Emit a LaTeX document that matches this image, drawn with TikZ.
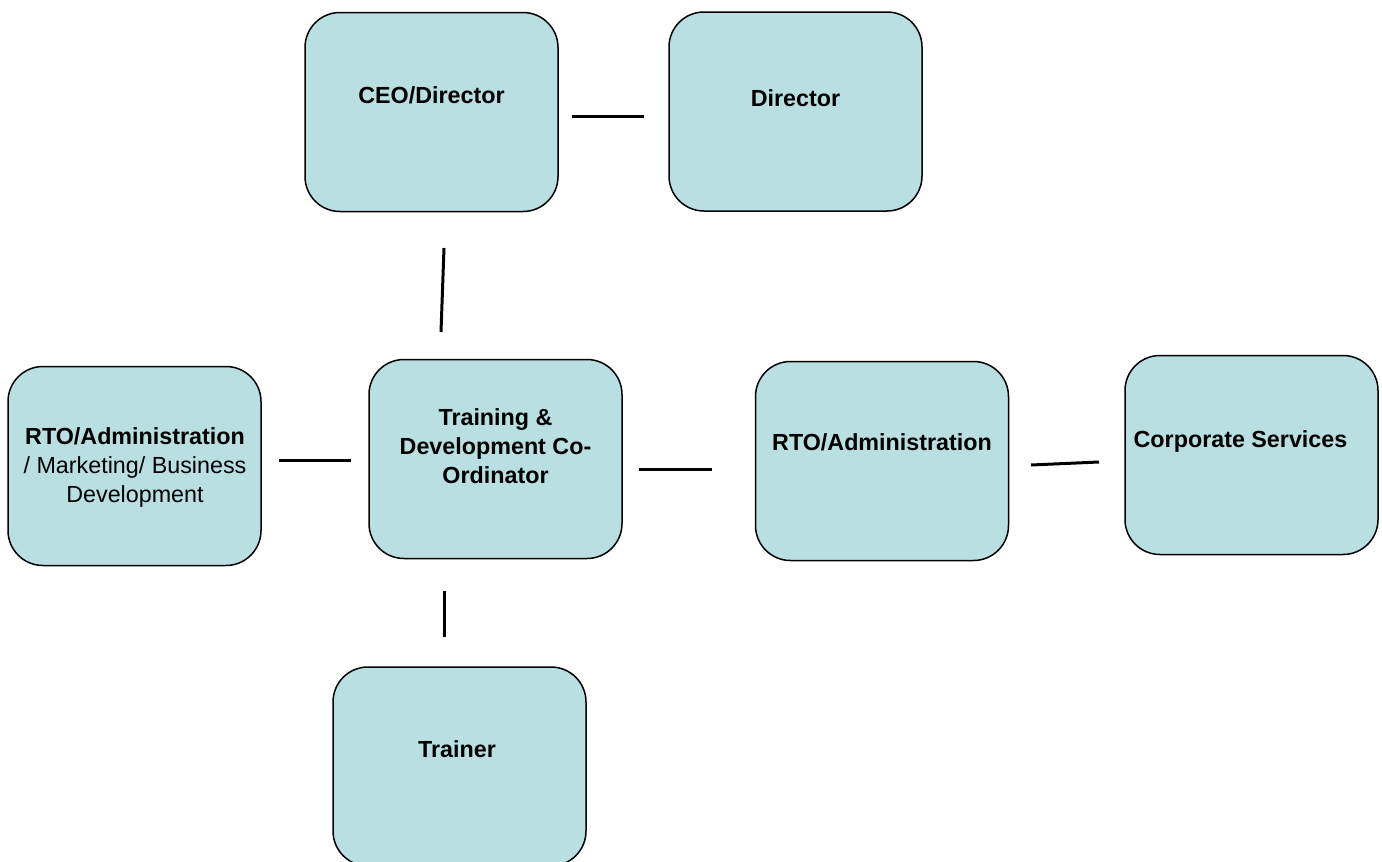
\documentclass[tikz,border=0pt]{standalone}
\usepackage{fontspec}
\setmainfont{Liberation Sans}
\definecolor{boxfill}{RGB}{185,223,227}
\tikzset{
  box/.style={draw, line width=1.5pt, fill=boxfill, rounded corners=35pt,
    minimum width=253pt, minimum height=199pt, inner sep=0pt},
  lbl/.style={align=center, font=\fontsize{23.3}{29}\selectfont\bfseries},
  link/.style={line width=3pt}
}
\begin{document}
\begin{tikzpicture}[x=1pt, y=-1pt]
  \useasboundingbox (0,0) rectangle (1382,862);
  \node [box] (ceo) at (431.5,112) {};
  \node [box] (dir) at (795.5,111.5) {};
  \node [box] (tdc) at (495.5,459) {};
  \node [box] (rtol) at (134.5,466) {};
  \node [box] (rtor) at (882,461) {};
  \node [box] (corp) at (1251.5,455) {};
  \node [box] (trainer) at (459.5,766.5) {};
  \node [lbl] (ceotext) at (431.5,95) {CEO/Director};
  \node [lbl] (dirtext) at (795.5,98) {Director};
  \node [lbl] (tdctext) at (495.5,446) {Training \&\\Development Co-\\Ordinator};
  \node [lbl] (rtoltext) at (135,467) {RTO/Administration\\\mdseries / Marketing/ Business\\\mdseries Development};
  \node [lbl] (rtortext) at (882,442) {RTO/Administration};
  \node [lbl] (corptext) at (1240.5,441) {Corporate Services};
  \node [lbl] (trainertext) at (457,749) {Trainer};
  \coordinate (a1) at (572,116); \coordinate (a2) at (644,116);
  \coordinate (b1) at (444,248); \coordinate (b2) at (441,332);
  \coordinate (c1) at (279,460); \coordinate (c2) at (351,460);
  \coordinate (d1) at (639,469); \coordinate (d2) at (712,469);
  \coordinate (e1) at (1031,465); \coordinate (e2) at (1099,462);
  \coordinate (f1) at (444,591); \coordinate (f2) at (444,637);
  \foreach \p/\q in {a1/a2, b1/b2, c1/c2, d1/d2, e1/e2, f1/f2}
    \draw [link] (\p) -- (\q);
\end{tikzpicture}
\end{document}
